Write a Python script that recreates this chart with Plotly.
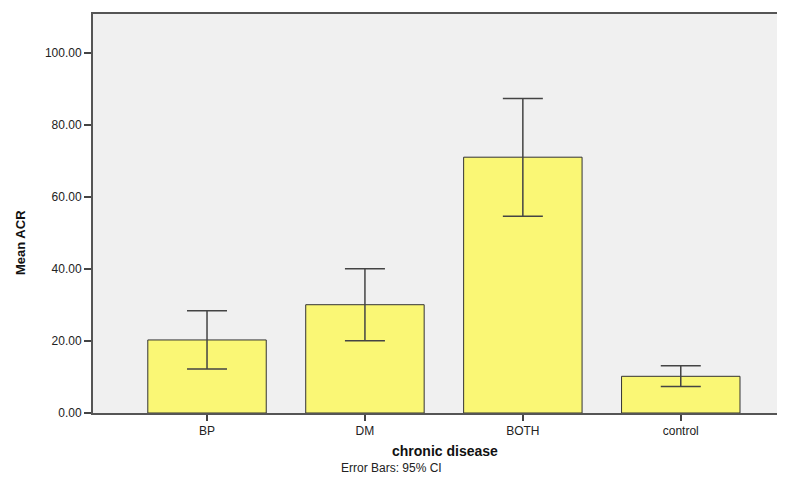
import plotly.graph_objects as go

categories = ["BP", "DM", "BOTH", "control"]
means = [20.3, 30.1, 71.1, 10.2]
upper = [28.4, 40.1, 87.4, 13.1]
lower = [12.2, 20.1, 54.7, 7.4]
y_ticks = [0, 20, 40, 60, 80, 100]
y_tick_labels = ["0.00", "20.00", "40.00", "60.00", "80.00", "100.00"]

err_plus = [u - m for u, m in zip(upper, means)]
err_minus = [m - l for m, l in zip(means, lower)]

# page body adds an 8px margin around the figure; compensate
OFF = 8
W, H = 785 - OFF, 483 - 2 * OFF
L, T = 93 - OFF, 14 - OFF
B = (OFF + H) - 413
PW = W - L
PH = H - T - B

fig = go.Figure()
fig.add_trace(go.Bar(
    x=list(range(len(categories))),
    y=means,
    width=0.75,
    marker=dict(color="#FAF775", line=dict(color="#333333", width=1)),
    error_y=dict(type="data", symmetric=False, array=err_plus, arrayminus=err_minus,
                 color="#444444", thickness=1.5, width=20),
))

def px_x(x):
    return (x - 93) / PW

def px_y(y):
    return (413 - y) / PH

fig.update_layout(
    width=W, height=H,
    margin=dict(l=L, r=0, t=T, b=B, pad=0),
    paper_bgcolor="white", plot_bgcolor="#F0F0F0",
    showlegend=False,
    font=dict(family="Liberation Sans, Arial, sans-serif", color="#222222"),
    xaxis=dict(
        range=[-0.722, 3.66],
        tickmode="array", tickvals=list(range(len(categories))), ticktext=categories,
        ticks="outside", ticklen=6, tickwidth=2, tickcolor="#444444",
        showline=True, linecolor="#555555", linewidth=2, mirror=True,
        showgrid=False, zeroline=False, tickfont=dict(size=12, color="#222222"),
    ),
    yaxis=dict(
        range=[0, 110.9],
        tickmode="array", tickvals=y_ticks, ticktext=y_tick_labels,
        ticks="outside", ticklen=7, tickwidth=1.5, tickcolor="#444444",
        showline=True, linecolor="#555555", linewidth=2,
        showgrid=False, zeroline=False, tickfont=dict(size=12, color="#222222"),
    ),
    annotations=[
        dict(text="<b>chronic disease</b>", xref="paper", yref="paper",
             x=px_x(445), y=px_y(451), xanchor="center", yanchor="middle",
             showarrow=False, font=dict(size=14, color="#111111")),
        dict(text="<b>Mean ACR</b>", xref="paper", yref="paper",
             x=px_x(20), y=px_y(243), xanchor="center", yanchor="middle",
             textangle=-90, showarrow=False, font=dict(size=13, color="#111111")),
        dict(text="Error Bars: 95% CI", xref="paper", yref="paper",
             x=px_x(391), y=px_y(468), xanchor="center", yanchor="middle",
             showarrow=False, font=dict(size=12, color="#222222")),
    ],
)

fig.write_html("out.html")
